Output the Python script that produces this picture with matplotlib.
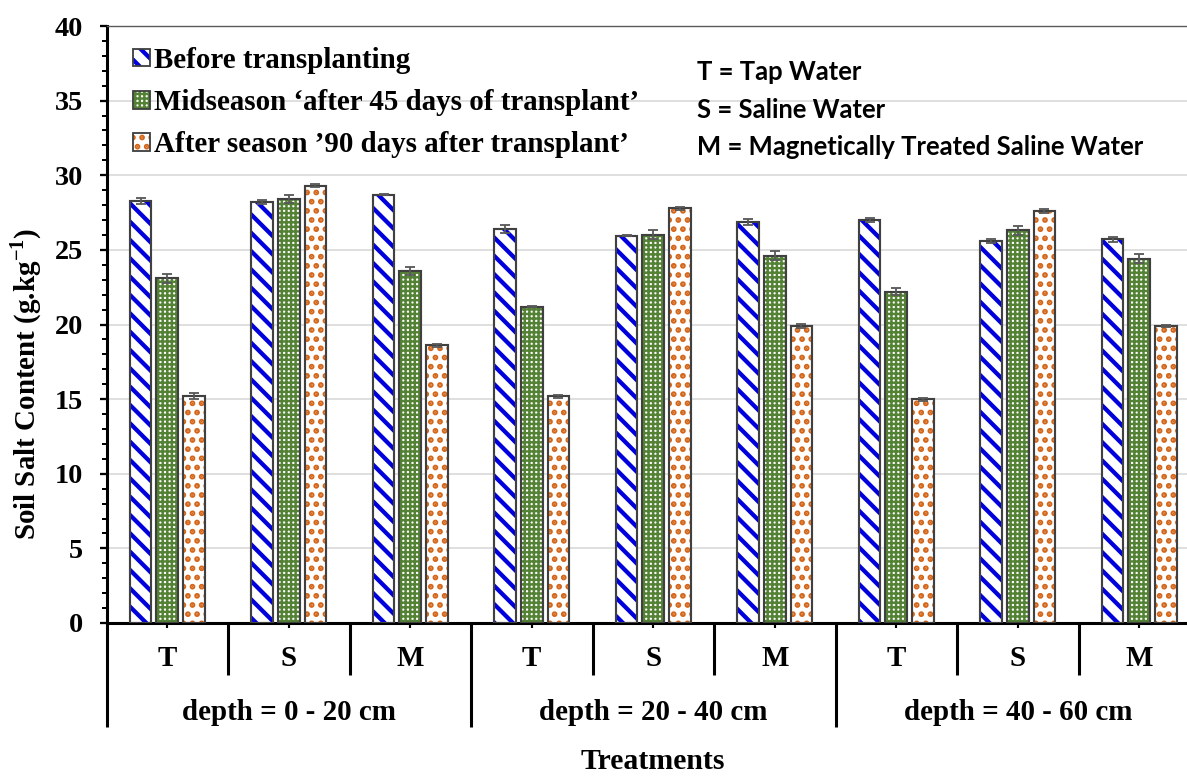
import numpy as np
import matplotlib.pyplot as plt
from matplotlib.patches import Patch
from matplotlib.legend_handler import HandlerTuple

plt.rcParams['font.family'] = 'Liberation Serif'
plt.rcParams['font.weight'] = 'bold'
plt.rcParams['mathtext.fontset'] = 'custom'
plt.rcParams['mathtext.rm'] = 'Liberation Serif:bold'
plt.rcParams['mathtext.bf'] = 'Liberation Serif:bold'

# data
groups = ['T', 'S', 'M'] * 3
depths = ['depth = 0 - 20 cm', 'depth = 20 - 40 cm', 'depth = 40 - 60 cm']
series = ['Before transplanting',
          'Midseason \u2018after 45 days of transplant\u2019',
          'After season \u201990 days after transplant\u2019']
before = [28.3, 28.2, 28.7, 26.4, 25.95, 26.9, 27.0, 25.6, 25.7]
mid = [23.1, 28.4, 23.6, 21.2, 26.0, 24.6, 22.2, 26.3, 24.4]
after = [15.2, 29.3, 18.6, 15.2, 27.8, 19.9, 15.0, 27.6, 19.9]
before_err = [0.2, 0.15, 0.05, 0.3, 0.05, 0.2, 0.15, 0.15, 0.15]
mid_err = [0.3, 0.25, 0.25, 0.05, 0.3, 0.3, 0.25, 0.3, 0.3]
after_err = [0.2, 0.1, 0.1, 0.1, 0.1, 0.15, 0.1, 0.15, 0.1]
notes = ['T = Tap Water', 'S = Saline Water', 'M = Magnetically Treated Saline Water']

DPI = 110
W, H = 1187, 776
FS = 19

fig = plt.figure(figsize=(W / DPI, H / DPI), dpi=DPI)
# plot area runs a little past the right edge, like the original crop
ax = fig.add_axes([106.5 / W, 153 / H, 1093.5 / W, 597 / H])

x = np.arange(len(groups))
step, width = 0.22, 0.179
styles = [
    dict(fc='white', hc='#0000dd', hatch='\\\\', hlw=2.8),
    dict(fc='white', hc='#548235', hatch='++++', hlw=1.6),
    dict(fc='white', hc='#d4661a', hatch='..', hlw=2.5),
]
hatch_lw = {st['hatch']: st['hlw'] for st in styles}


def set_hatch_lw(patch, lw):
    if hasattr(patch, 'set_hatch_linewidth'):
        patch.set_hatch_linewidth(lw)
    else:
        patch._hatch_linewidth = lw


vals_all = [before, mid, after]
errs_all = [before_err, mid_err, after_err]

handles = []
for k, (vals, errs, st) in enumerate(zip(vals_all, errs_all, styles)):
    pos = x + (k - 1) * step
    with plt.rc_context({'hatch.linewidth': st['hlw']}):
        bars = ax.bar(pos, vals, width, color=st['fc'], edgecolor=st['hc'],
                      hatch=st['hatch'], linewidth=0, zorder=2)
        h_fill = Patch(facecolor=st['fc'], edgecolor=st['hc'], hatch=st['hatch'], linewidth=0)
    for p in bars:
        set_hatch_lw(p, st['hlw'])
    ax.bar(pos, vals, width, fill=False, edgecolor='#404040', linewidth=1.4, zorder=3)
    ax.errorbar(pos, vals, yerr=errs, fmt='none', ecolor='#595959',
                elinewidth=1.2, capsize=3.5, capthick=1.2, zorder=4)
    handles.append((h_fill, Patch(fill=False, edgecolor='#404040', linewidth=1.2)))

ax.set_xlim(-0.5, 8.5)
ax.set_ylim(0, 40)
ax.set_yticks(np.arange(0, 41, 5))
ax.set_yticks(np.arange(0, 41, 1), minor=True)
ax.tick_params(axis='y', which='major', direction='out', length=4.6, width=1.5,
               labelsize=FS - 0.5, pad=10.5)
ax.tick_params(axis='y', which='minor', direction='out', length=3.3, width=1.3)
ax.set_xticks(x)
ax.tick_params(axis='x', direction='out', length=3.3, width=1.4, labelbottom=False)

ax.yaxis.grid(True, color='#d9d9d9', linewidth=1.1)
ax.set_axisbelow(True)
ax.spines['left'].set_linewidth(2.0)
ax.spines['bottom'].set_linewidth(2.0)
ax.spines['right'].set_visible(False)
ax.spines['top'].set_color('#595959')
ax.spines['top'].set_linewidth(0.9)

# two-level category axis
tr = ax.get_xaxis_transform()
lvl1, lvl2 = -0.0871, -0.1742
for i, b in enumerate(np.arange(-0.5, 9.0, 1.0)):
    y_end = lvl2 if i % 3 == 0 else lvl1
    ax.plot([b, b], [0, y_end], transform=tr, color='black', lw=2.0,
            clip_on=False, solid_capstyle='butt')
for i, g in enumerate(groups):
    ax.text(i, -0.060, g, transform=tr, ha='center', va='center', fontsize=FS)
for j, d in enumerate(depths):
    ax.text(3 * j + 1, -0.1500, d, transform=tr, ha='center', va='center', fontsize=FS)
ax.text(0.5, -0.232, 'Treatments', transform=ax.transAxes, ha='center',
        va='center', fontsize=FS + 0.5)

fig.text(26 / W, 1 - 384 / H, 'Soil Salt Content (g.kg$^{\\mathbf{-1}}$)',
         rotation=90, ha='center', va='center', fontsize=FS)

with plt.rc_context({'hatch.linewidth': 1.5}):
    leg = ax.legend(handles=handles, labels=series, loc='upper left',
                    bbox_to_anchor=(133 / W, 1 - 47 / H), bbox_transform=fig.transFigure,
                    frameon=False, fontsize=FS, handlelength=0.59, handleheight=0.55,
                    handletextpad=0.15, labelspacing=0.52, borderpad=0, borderaxespad=0,
                    handler_map={tuple: HandlerTuple(ndivide=1)})
for p in leg.findobj(Patch):
    if p.get_hatch():
        set_hatch_lw(p, hatch_lw.get(p.get_hatch(), 1.5))

for t, yy in zip(notes, [72, 110, 147]):
    fig.text(697 / W, 1 - yy / H, t, ha='left', va='center', fontsize=16.8,
             family='Lato', weight='bold')

fig.savefig('out.png', dpi=DPI)
